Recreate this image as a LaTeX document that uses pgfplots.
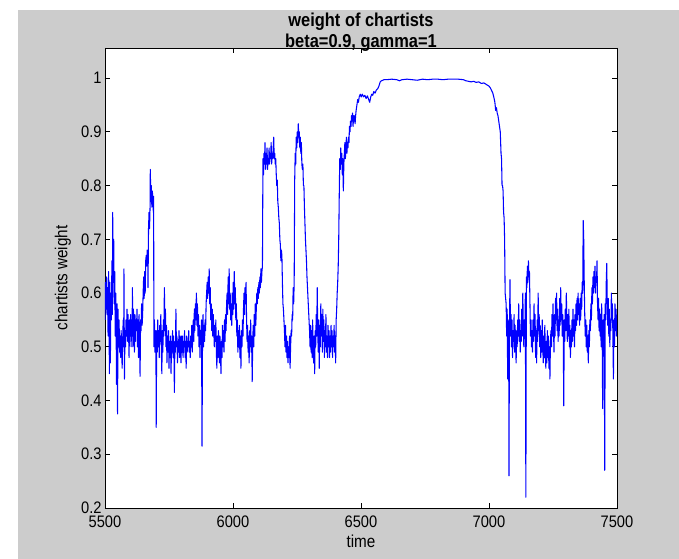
\documentclass[border=0pt]{standalone}
\usepackage{pgfplots}
\pgfplotsset{compat=1.18}
\usepackage{fontspec}
\setmainfont{Liberation Sans}[FakeStretch=0.88]
\definecolor{figgray}{RGB}{204,204,204}
\begin{document}
\begin{tikzpicture}
\fill[white] (0,0) rectangle (509.25pt,419.25pt);
\fill[figgray] (13.5pt,0) rectangle (509.25pt,411.75pt);
\begin{axis}[
  at={(78.75pt,38.25pt)}, anchor=south west,
  scale only axis, width=384pt, height=345pt,
  xmin=5500, xmax=7500, ymin=0.2, ymax=1.056,
  xtick={5500,6000,...,7500},
  ytick={0.2,0.3,...,1.0},
  yticklabels={0.2,0.3,0.4,0.5,0.6,0.7,0.8,0.9,1},
  /pgf/number format/assume math mode=true,
  /pgf/number format/set thousands separator={},
  tick align=inside, major tick length=3.75pt,
  tick style={black, line width=0.6pt},
  axis line style={black, line width=0.7pt},
  axis background/.style={fill=white},
  tick label style={font=\fontsize{12.5}{14}\selectfont},
  xticklabel style={yshift=-2.5pt},
  yticklabel style={xshift=1pt},
  title={weight of chartists\\beta=0.9, gamma=1},
  title style={at={(axis description cs:0.5,1)}, anchor=south, align=center, inner sep=0pt, yshift=-9pt,
    font=\bfseries\fontsize{14}{15.75}\selectfont},
  xlabel={time},
  xlabel style={at={(axis description cs:0.5,-0.0717)}, anchor=center, font=\fontsize{13}{14}\selectfont},
  ylabel={chartists weight},
  ylabel style={at={(axis description cs:-0.082,0.5)}, anchor=center, font=\fontsize{13}{14}\selectfont},
]
\addplot[blue, line width=0.8pt, line join=round] coordinates {
(5500,0.55)(5502,0.62)(5504,0.57)(5506,0.63)(5508,0.56)(5510,0.61)(5512,0.52)(5514,0.64)(5516,0.58)(5517,0.45)(5519,0.62)(5521,0.47)(5523,0.60)(5525,0.55)(5527,0.66)(5529,0.56)(5530,0.75)(5532,0.62)(5534,0.70)(5536,0.58)(5538,0.64)(5540,0.52)(5542,0.60)(5544,0.50)(5545,0.43)(5547,0.58)(5549,0.375)(5551,0.57)(5553,0.50)
(5555,0.55)(5557,0.49)(5559,0.52)(5561,0.48)(5563,0.53)(5565,0.50)(5567,0.46)(5569,0.51)(5571,0.55)(5573,0.50)(5574,0.645)(5576,0.44)(5578,0.53)(5580,0.50)(5582,0.55)(5584,0.52)(5586,0.57)(5588,0.51)(5590,0.56)(5592,0.53)(5594,0.48)(5596,0.55)(5598,0.52)
(5600,0.56)(5602,0.50)(5604,0.55)(5606,0.52)(5607,0.61)(5609,0.50)(5611,0.57)(5613,0.53)(5615,0.49)(5617,0.56)(5619,0.51)(5621,0.55)(5623,0.53)(5625,0.57)(5627,0.50)(5629,0.55)(5631,0.48)(5633,0.56)(5635,0.52)(5637,0.445)(5639,0.55)(5641,0.53)(5643,0.58)(5645,0.54)(5647,0.56)(5649,0.60)
(5651,0.63)(5653,0.59)(5655,0.64)(5657,0.60)(5659,0.66)(5661,0.67)(5663,0.65)(5665,0.68)(5667,0.66)(5668,0.61)(5670,0.72)(5672,0.75)(5674,0.72)(5676,0.76)(5677,0.83)(5679,0.77)(5681,0.80)(5683,0.76)(5685,0.79)(5687,0.77)(5689,0.75)(5690,0.78)(5691,0.50)(5693,0.55)(5695,0.49)(5697,0.53)(5699,0.50)(5700,0.35)(5702,0.53)
(5704,0.49)(5706,0.55)(5708,0.50)(5710,0.53)(5712,0.48)(5714,0.54)(5716,0.51)(5718,0.56)(5720,0.50)(5722,0.45)(5724,0.53)(5726,0.49)(5728,0.55)(5730,0.52)(5732,0.61)(5734,0.53)(5736,0.57)(5738,0.50)(5740,0.54)(5742,0.47)(5744,0.52)(5746,0.49)(5748,0.53)(5750,0.46)(5752,0.51)(5754,0.48)(5756,0.52)(5758,0.45)(5760,0.51)(5762,0.49)(5764,0.53)(5766,0.48)(5768,0.52)(5770,0.47)(5771,0.415)(5773,0.51)(5775,0.49)(5777,0.57)(5779,0.50)(5781,0.52)(5783,0.47)(5785,0.51)(5787,0.49)(5789,0.53)(5791,0.48)(5793,0.52)(5795,0.50)(5797,0.47)(5799,0.52)
(5801,0.49)(5803,0.52)(5805,0.48)(5807,0.51)(5809,0.50)(5811,0.53)(5813,0.48)(5815,0.51)(5817,0.46)(5819,0.52)(5821,0.49)(5823,0.51)(5825,0.50)(5827,0.53)(5829,0.49)(5831,0.51)(5833,0.48)(5835,0.52)(5837,0.50)(5839,0.54)(5841,0.49)(5843,0.53)(5845,0.55)(5847,0.51)(5849,0.57)(5851,0.53)(5853,0.58)(5855,0.55)(5857,0.60)(5859,0.54)(5861,0.58)(5863,0.52)(5865,0.56)(5867,0.50)(5869,0.54)(5871,0.48)(5873,0.53)(5875,0.51)(5877,0.55)(5879,0.315)(5881,0.52)
(5883,0.56)(5885,0.50)(5887,0.54)(5889,0.51)(5891,0.55)(5893,0.53)(5895,0.58)(5897,0.60)(5899,0.62)(5901,0.59)(5903,0.63)(5905,0.60)(5907,0.645)(5909,0.58)(5911,0.61)(5913,0.55)(5915,0.58)(5917,0.53)(5919,0.57)(5921,0.52)(5923,0.56)(5925,0.53)(5927,0.50)(5929,0.54)(5931,0.51)(5933,0.55)(5935,0.49)(5937,0.46)(5939,0.52)(5941,0.48)(5943,0.53)(5945,0.50)(5947,0.47)(5949,0.52)(5951,0.49)(5953,0.45)(5955,0.51)(5957,0.48)(5959,0.54)(5961,0.50)(5963,0.53)(5965,0.49)(5967,0.55)(5969,0.51)(5971,0.56)(5973,0.53)(5975,0.58)(5977,0.60)(5979,0.56)(5981,0.63)(5983,0.58)(5985,0.645)(5987,0.57)(5989,0.60)(5991,0.55)(5993,0.58)(5995,0.54)(5997,0.60)(5999,0.56)
(6001,0.62)(6003,0.57)(6005,0.64)(6007,0.58)(6009,0.61)(6011,0.55)(6013,0.58)(6015,0.52)(6017,0.55)(6019,0.49)(6021,0.53)(6023,0.50)(6025,0.54)(6027,0.48)(6029,0.52)(6031,0.46)(6033,0.53)(6035,0.50)(6037,0.55)(6039,0.52)(6041,0.57)(6043,0.60)(6045,0.56)(6047,0.61)(6049,0.58)(6051,0.62)(6053,0.55)(6055,0.51)(6057,0.54)(6059,0.49)(6061,0.52)(6063,0.47)(6065,0.53)(6067,0.50)(6069,0.55)(6071,0.49)(6073,0.52)(6075,0.435)(6077,0.51)(6079,0.54)(6081,0.50)(6083,0.56)(6085,0.52)(6087,0.58)(6089,0.54)(6091,0.57)(6093,0.60)(6095,0.58)(6097,0.61)(6099,0.59)(6101,0.62)(6103,0.60)(6105,0.63)(6107,0.61)(6109,0.645)(6111,0.62)(6113,0.64)(6115,0.65)
(6117,0.85)(6119,0.82)(6121,0.86)(6123,0.84)(6125,0.88)(6127,0.83)(6129,0.86)(6131,0.84)(6133,0.87)(6135,0.83)(6137,0.85)(6139,0.84)(6141,0.87)(6143,0.84)(6145,0.86)(6147,0.85)(6149,0.88)(6151,0.84)(6153,0.86)(6155,0.85)(6157,0.87)(6159,0.89)(6161,0.85)(6163,0.86)(6165,0.84)(6167,0.85)(6169,0.82)(6171,0.80)(6173,0.81)(6175,0.77)(6177,0.76)(6179,0.74)(6181,0.73)(6183,0.70)(6185,0.69)(6187,0.66)(6189,0.68)(6191,0.67)(6193,0.62)(6195,0.58)(6197,0.57)(6199,0.55)
(6201,0.53)(6203,0.50)(6205,0.54)(6207,0.49)(6209,0.52)(6211,0.48)(6213,0.51)(6215,0.47)(6217,0.50)(6219,0.48)(6221,0.52)(6223,0.46)(6225,0.50)(6227,0.53)(6229,0.52)(6231,0.56)(6233,0.55)(6235,0.61)(6237,0.58)(6239,0.62)
(6241,0.81)(6243,0.86)(6245,0.84)(6247,0.89)(6249,0.87)(6251,0.90)(6253,0.88)(6255,0.915)(6257,0.89)(6259,0.90)(6261,0.87)(6263,0.89)(6265,0.86)(6267,0.88)(6269,0.84)(6271,0.83)(6273,0.84)(6275,0.80)(6277,0.80)(6279,0.76)(6281,0.73)(6283,0.70)(6285,0.68)(6287,0.66)(6289,0.63)(6291,0.61)(6293,0.59)(6295,0.57)(6297,0.55)(6299,0.53)
(6301,0.50)(6303,0.54)(6305,0.49)(6307,0.53)(6309,0.48)(6311,0.55)(6313,0.50)(6315,0.47)(6317,0.52)(6319,0.45)(6321,0.53)(6323,0.50)(6325,0.56)(6327,0.52)(6329,0.61)(6331,0.53)(6333,0.49)(6335,0.55)(6337,0.46)(6339,0.54)(6341,0.50)(6343,0.58)(6345,0.52)(6347,0.56)(6349,0.49)(6351,0.57)(6353,0.51)(6355,0.55)(6357,0.48)(6359,0.53)(6361,0.50)(6363,0.56)(6365,0.49)(6367,0.52)(6369,0.48)(6371,0.54)(6373,0.50)(6375,0.53)(6377,0.48)(6379,0.52)(6381,0.49)(6383,0.54)(6385,0.50)(6387,0.53)(6389,0.48)(6391,0.52)(6393,0.50)(6395,0.54)(6397,0.49)(6399,0.52)(6401,0.47)(6403,0.55)(6405,0.57)(6407,0.60)(6409,0.62)(6411,0.65)
(6413,0.70)(6415,0.78)(6417,0.85)(6419,0.83)(6421,0.87)(6423,0.84)(6425,0.86)(6427,0.82)(6429,0.85)(6431,0.79)(6433,0.84)(6435,0.86)(6437,0.88)(6439,0.85)(6441,0.87)(6443,0.89)(6445,0.86)(6447,0.88)(6449,0.87)(6451,0.89)(6453,0.88)(6455,0.91)(6457,0.90)(6459,0.92)(6461,0.91)(6463,0.93)(6465,0.92)(6467,0.935)(6469,0.91)(6471,0.93)(6473,0.92)(6475,0.93)(6477,0.915)(6479,0.93)(6481,0.94)(6484,0.95)(6487,0.96)(6490,0.955)(6493,0.965)(6497,0.97)(6501,0.965)(6505,0.97)(6510,0.965)(6515,0.968)(6520,0.962)(6525,0.967)(6530,0.96)(6534,0.955)(6538,0.965)(6542,0.97)(6546,0.968)(6550,0.975)(6555,0.972)(6560,0.978)(6565,0.98)(6570,0.985)(6575,0.993)(6580,0.995)(6585,0.996)(6590,0.997)
(6600,0.997)(6620,0.998)(6640,0.997)(6650,0.995)(6660,0.997)(6680,0.998)(6700,0.997)(6720,0.996)(6740,0.998)(6760,0.997)(6780,0.998)(6800,0.998)(6820,0.997)(6840,0.998)(6860,0.998)(6880,0.998)(6900,0.997)(6910,0.995)(6920,0.994)(6930,0.993)(6940,0.994)(6950,0.992)(6960,0.993)(6970,0.99)(6980,0.991)(6990,0.988)(7000,0.985)(7005,0.982)(7010,0.977)(7015,0.972)(7020,0.962)(7023,0.955)(7026,0.94)(7029,0.945)(7032,0.935)(7035,0.93)(7038,0.92)(7041,0.91)(7044,0.90)(7047,0.86)(7049,0.85)(7051,0.80)(7053,0.80)(7055,0.79)(7057,0.75)(7059,0.74)(7061,0.70)(7063,0.60)(7065,0.59)(7067,0.58)
(7069,0.52)(7071,0.57)(7073,0.44)(7075,0.55)(7077,0.50)(7078,0.26)(7080,0.54)(7082,0.625)(7084,0.52)(7086,0.56)(7088,0.50)(7090,0.55)(7092,0.48)(7094,0.53)(7096,0.51)(7098,0.56)(7100,0.49)(7102,0.54)(7104,0.50)(7106,0.47)(7108,0.53)(7110,0.50)(7112,0.55)(7114,0.52)(7116,0.58)(7118,0.51)(7120,0.55)(7122,0.49)(7124,0.53)(7126,0.51)(7128,0.57)(7130,0.52)(7132,0.60)(7134,0.54)(7136,0.50)(7138,0.55)(7140,0.52)(7142,0.60)(7144,0.22)(7146,0.63)(7148,0.61)(7150,0.65)(7152,0.62)(7154,0.66)(7156,0.63)(7158,0.64)(7160,0.58)(7162,0.52)(7164,0.55)(7166,0.50)(7168,0.53)(7170,0.49)(7172,0.55)(7174,0.51)(7176,0.58)(7178,0.52)(7180,0.56)(7182,0.48)(7184,0.53)(7186,0.47)(7188,0.55)(7190,0.51)(7192,0.60)(7194,0.53)(7196,0.56)(7198,0.50)
(7200,0.54)(7202,0.48)(7204,0.53)(7206,0.49)(7208,0.55)(7210,0.50)(7212,0.47)(7214,0.52)(7216,0.48)(7218,0.54)(7220,0.49)(7222,0.46)(7224,0.51)(7226,0.47)(7228,0.53)(7230,0.48)(7232,0.52)(7234,0.46)(7236,0.50)(7238,0.44)(7240,0.51)(7242,0.53)(7244,0.50)(7246,0.56)(7248,0.52)(7250,0.58)(7252,0.53)(7254,0.49)(7256,0.56)(7258,0.52)(7260,0.59)(7262,0.55)(7264,0.60)(7266,0.53)(7268,0.57)(7270,0.51)(7272,0.55)(7274,0.52)(7276,0.59)(7278,0.54)(7280,0.61)(7282,0.55)(7284,0.58)(7286,0.52)(7288,0.56)(7290,0.53)(7292,0.39)(7294,0.55)(7296,0.51)(7298,0.57)(7300,0.53)(7302,0.60)(7304,0.55)(7306,0.51)(7308,0.56)(7310,0.52)(7312,0.57)(7314,0.50)(7316,0.54)(7318,0.48)(7320,0.53)(7322,0.50)(7324,0.55)(7326,0.51)(7328,0.57)(7330,0.52)(7332,0.55)(7334,0.50)(7336,0.56)(7338,0.53)
(7340,0.58)(7342,0.54)(7344,0.59)(7346,0.55)(7348,0.60)(7350,0.56)(7352,0.58)(7354,0.54)(7356,0.59)(7358,0.55)(7360,0.60)(7362,0.57)(7364,0.62)(7366,0.60)(7368,0.735)(7370,0.70)(7372,0.62)(7374,0.56)(7376,0.52)(7378,0.55)(7380,0.50)(7382,0.54)(7384,0.49)(7386,0.52)(7388,0.47)(7390,0.53)(7392,0.50)(7394,0.55)(7396,0.53)(7398,0.58)(7400,0.55)(7402,0.61)(7404,0.58)(7406,0.63)(7408,0.60)(7410,0.64)(7412,0.61)(7414,0.65)(7416,0.60)(7418,0.63)(7420,0.62)(7422,0.66)(7424,0.58)(7426,0.55)(7428,0.59)(7430,0.53)(7432,0.57)(7434,0.52)(7436,0.56)(7438,0.50)(7440,0.58)(7442,0.53)(7444,0.385)(7446,0.55)(7448,0.50)(7450,0.56)(7452,0.27)(7454,0.58)(7456,0.55)(7458,0.62)(7460,0.655)(7462,0.58)(7464,0.54)(7466,0.59)(7468,0.52)(7470,0.57)(7472,0.50)(7474,0.55)(7476,0.53)(7478,0.60)(7480,0.55)(7482,0.58)(7484,0.52)(7486,0.44)(7488,0.55)(7490,0.50)(7492,0.58)(7494,0.53)(7496,0.57)(7498,0.52)(7500,0.56)
};
\end{axis}
\end{tikzpicture}
\end{document}
